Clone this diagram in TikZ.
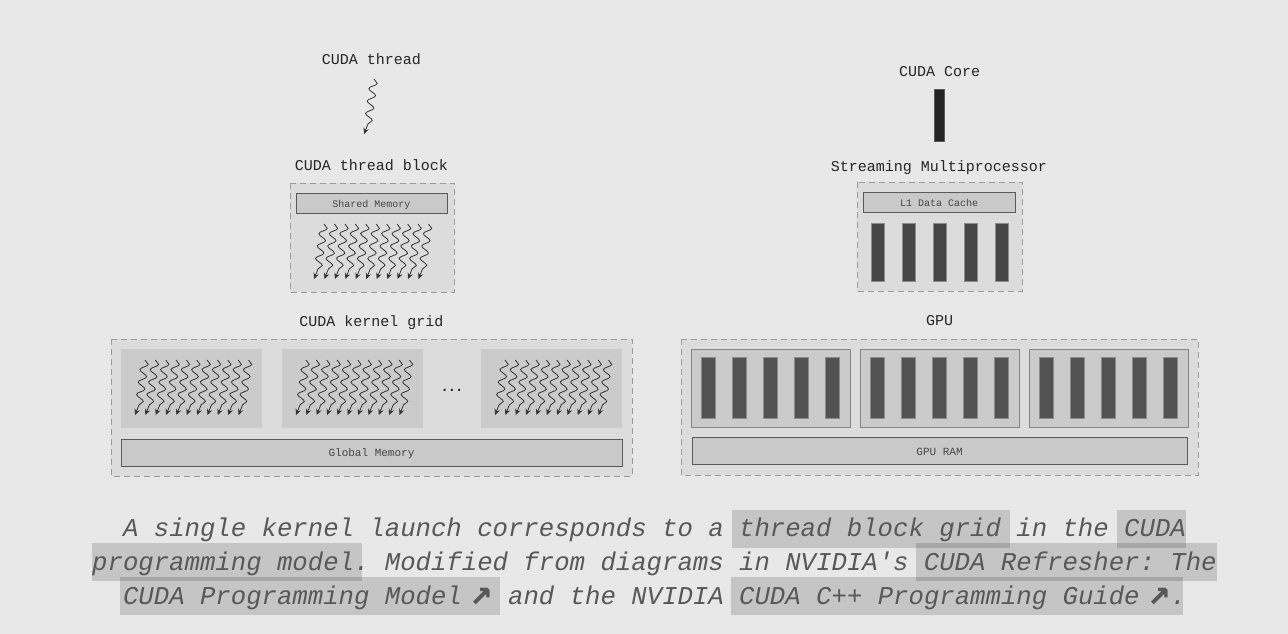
\documentclass[tikz,border=0pt]{standalone}
\usepackage{fontspec}
\setmonofont{Liberation Mono}
\newfontfamily\arrowfont{DejaVu Sans Mono}
\usetikzlibrary{arrows.meta,decorations.pathmorphing}
\definecolor{bgc}{HTML}{E8E8E8}
\definecolor{dashfill}{HTML}{DCDCDC}
\definecolor{dashline}{HTML}{9A9A9A}
\definecolor{blockfill}{HTML}{CBCBCB}
\definecolor{memfill}{HTML}{C9C9C9}
\definecolor{memline}{HTML}{5A5A5A}
\definecolor{barfill}{HTML}{535353}
\definecolor{barline}{HTML}{8C8C8C}
\definecolor{smbar}{HTML}{464646}
\definecolor{labc}{HTML}{252525}
\definecolor{smallc}{HTML}{454545}
\definecolor{capc}{HTML}{585858}
\definecolor{thrc}{HTML}{333333}
\newcommand\threadAt[2]{%
  \begin{scope}[shift={(#1,#2)}]
    \draw[wave] (5,0) -- (-1,45);
    \draw[thrtip] (-1,45) -- (-5,55);
  \end{scope}}
\newcommand\extarrow{\makebox[15.4pt][r]{\raisebox{-0.5pt}{\scalebox{1.45}{\arrowfont\upshape\bfseries ↗}}}}
\begin{document}
\begin{tikzpicture}[x=1pt,y=-1pt,
  lbl/.style={anchor=base,text=labc,font=\fontsize{15}{18}\selectfont\ttfamily,inner sep=0pt},
  small/.style={anchor=base,text=smallc,font=\fontsize{10}{12}\selectfont\ttfamily,inner sep=0pt},
  mid/.style={anchor=base,text=smallc,font=\fontsize{11}{13}\selectfont\ttfamily,inner sep=0pt},
  captext/.style={anchor=base,text=capc,font=\fontsize{25.67}{34}\selectfont\ttfamily\itshape,inner sep=0pt},
  dashbox/.style={fill=dashfill,draw=dashline,line width=1pt,dash pattern=on 6pt off 4pt},
  membox/.style={fill=memfill,draw=memline,line width=1pt},
  smbox/.style={fill=blockfill,draw=black!48,line width=1pt},
  corebar/.style={fill=barfill,draw=barline,line width=0.8pt},
  smcore/.style={fill=smbar,draw=barline,line width=0.8pt},
  hl/.style={fill=black,fill opacity=0.15},
  wave/.style={draw=thrc,line width=0.8pt,decorate,decoration={snake,amplitude=3.8pt,segment length=12.5pt}},
  thrtip/.style={draw=thrc,line width=0.8pt,-{Stealth[length=6pt,width=5.5pt]}}
]
\fill[bgc] (0,0) rectangle (1288,634);
\useasboundingbox (0,0) rectangle (1288,634);

% ---------- left: programming model ----------
\node[lbl] (lthr) at (371.5,65) {CUDA thread};
\threadAt{369}{79}

\node[lbl] (lblock) at (371.5,170.5) {CUDA thread block};
\draw[dashbox] (290,183) rectangle (454,292);
\draw[membox] (296,193) rectangle (447,213);
\node[small] (shm) at (371.5,207) {Shared Memory};
\foreach \i in {0,...,10} { \threadAt{319+10.45*\i}{224} }

\node[lbl] (lgrid) at (371.5,326) {CUDA kernel grid};
\draw[dashbox] (111,339) rectangle (632,476);
\foreach \bx in {121,282,481} {
  \fill[blockfill] (\bx,349) rectangle (\bx+141,428);
  \foreach \i in {0,...,10} { \threadAt{\bx+19+10.35*\i}{360} }
}
\node[anchor=base,text=labc,font=\fontsize{12}{14}\selectfont\arrowfont\bfseries,inner sep=0pt] (dots) at (452,391) {...};
\draw[membox] (121,439) rectangle (622,466);
\node[mid] (gmem) at (371.5,456) {Global Memory};

% ---------- right: hardware ----------
\node[lbl] (lcore) at (939.5,76.5) {CUDA Core};
\draw[fill=black!86,draw=black!65,line width=0.8pt] (934,89) rectangle (944,141);

\node[lbl] (lsm) at (939,171) {Streaming Multiprocessor};
\draw[dashbox] (857,182) rectangle (1022,291);
\draw[membox] (863,192) rectangle (1015,212);
\node[small] (l1) at (939,206.5) {L1 Data Cache};
\foreach \i in {0,...,4} { \draw[smcore] (871+31*\i,223) rectangle (884+31*\i,281); }

\node[lbl] (lgpu) at (939.5,325) {GPU};
\draw[dashbox] (681,339) rectangle (1198,475);
\foreach \s in {0,1,2} {
  \draw[smbox] (691+169*\s,349) rectangle (850+169*\s,427);
  \foreach \i in {0,...,4} { \draw[corebar] (701.5+169*\s+31*\i,357) rectangle (715.5+169*\s+31*\i,418); }
}
\draw[membox] (692,437) rectangle (1187,464);
\node[mid] (gram) at (939.5,455.5) {GPU RAM};

% ---------- caption ----------
\fill[hl] (732,510) rectangle (1010,548);
\fill[hl] (1117,510) rectangle (1186,548);
\fill[hl] (92,543) rectangle (362,581);
\fill[hl] (916,543) rectangle (1217,581);
\fill[hl] (120,577) rectangle (500,615);
\fill[hl] (731,577) rectangle (1183,615);
\node[captext] (c1) at (654.5,536) {A single kernel launch corresponds to a thread block grid in the CUDA};
\node[captext] (c2) at (654.5,570) {programming model. Modified from diagrams in NVIDIA's CUDA Refresher: The};
\node[captext] (c3) at (654.5,604) {CUDA Programming Model \extarrow{} and the NVIDIA CUDA C++ Programming Guide \extarrow.};
\end{tikzpicture}
\end{document}
